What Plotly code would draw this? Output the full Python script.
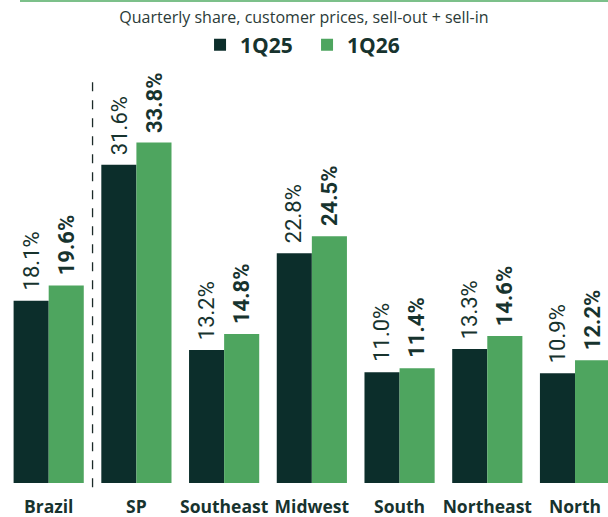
import plotly.graph_objects as go

regions = ["Brazil", "SP", "Southeast", "Midwest", "South", "Northeast", "North"]
q1_25 = [18.1, 31.6, 13.2, 22.8, 11.0, 13.3, 10.9]
q1_26 = [19.6, 33.8, 14.8, 24.5, 11.4, 14.6, 12.2]
series_names = ["1Q25", "1Q26"]
title_text = "Quarterly share, customer prices, sell-out + sell-in"

DARK = "#0c2e2b"
GREEN = "#4ea55f"
TEXT = "#17332e"

fig = go.Figure()
fig.add_trace(go.Bar(x=regions, y=q1_25, name=series_names[0], marker_color=DARK,
                     marker_line_width=0))
fig.add_trace(go.Bar(x=regions, y=q1_26, name=series_names[1], marker_color=GREEN,
                     marker_line_width=0))

annotations = []
for series, shift, weight in ((q1_25, -17.5, "normal"), (q1_26, 17.5, "bold")):
    for r, v in zip(regions, series):
        annotations.append(dict(
            x=r, y=v, xref="x", yref="y", text=f"{v:.1f}%", showarrow=False,
            textangle=-90, xanchor="center", yanchor="bottom", xshift=shift, yshift=8,
            font=dict(family="Roboto", size=22, color=TEXT, weight=weight),
        ))

fig.update_layout(
    width=608, height=517,
    margin=dict(l=0, r=0, t=60, b=34),
    paper_bgcolor="white", plot_bgcolor="white",
    barmode="group", bargap=0.2, bargroupgap=0,
    showlegend=True,
    legend=dict(orientation="h", x=0.505, xanchor="center", y=1 + 15/423, yanchor="middle",
                font=dict(family="Open Sans", size=21, color=TEXT, weight="bold"),
                itemwidth=30, entrywidth=62, tracegroupgap=0, bgcolor="rgba(0,0,0,0)"),
    xaxis=dict(range=[-0.555, 6.376], showgrid=False, zeroline=False, showline=False,
               ticks="outside", ticklen=8, tickcolor="rgba(0,0,0,0)",
               tickfont=dict(family="Open Sans", size=17.5, color=TEXT, weight="bold")),
    yaxis=dict(range=[0, 42.0], visible=False, showgrid=False),
    title=dict(text=title_text, x=0.5, xanchor="center", y=1 - 17/517, yanchor="middle",
               font=dict(family="Open Sans", size=16, color="#2b3b38")),
    annotations=annotations,
    shapes=[
        dict(type="line", xref="paper", yref="paper", x0=20/608, x1=1, y0=1 + 59/423, y1=1 + 59/423,
             line=dict(color="#7cc08a", width=2)),
        dict(type="line", xref="x", yref="paper", x0=0.5, x1=0.5, y0=-0.01, y1=1 - 15/423,
             line=dict(color="#1c2a28", width=1.3, dash="dash")),
    ],
)

fig.write_html("out.html", config={"displayModeBar": False},
               post_script="document.body.style.margin='0';")
